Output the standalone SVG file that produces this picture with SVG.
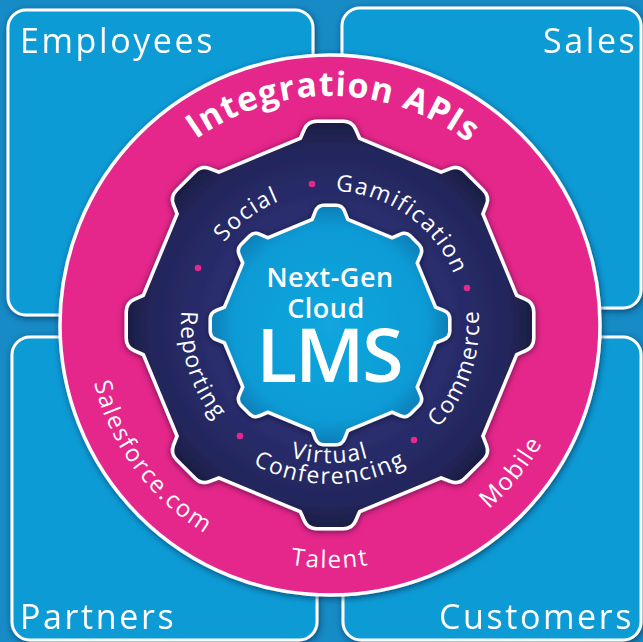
<svg xmlns="http://www.w3.org/2000/svg" width="643" height="642" viewBox="0 0 643 642">
<defs>
<style>
.box{fill:#0a9bd5;stroke:#fff;stroke-width:3}
.q{font-family:"Open Sans","Liberation Sans",sans-serif;font-size:34px;fill:#fff;letter-spacing:2.6px}
.lbl{font-family:"Open Sans","Liberation Sans",sans-serif;fill:#fff}
.ring{font-size:24px;letter-spacing:1.7px}
.gl{font-size:23px;letter-spacing:1.5px}
.dot{fill:#e5288a}
</style>
<filter id="sh" x="-20%" y="-20%" width="140%" height="140%">
<feDropShadow dx="1" dy="2" stdDeviation="3" flood-color="#05284a" flood-opacity="0.65"/>
</filter>
<filter id="sh2" x="-20%" y="-20%" width="140%" height="140%">
<feDropShadow dx="0" dy="1" stdDeviation="3" flood-color="#0a0c25" flood-opacity="0.6"/>
</filter>
<radialGradient id="navy" gradientUnits="userSpaceOnUse" cx="0" cy="0" r="210">
<stop offset="0.55" stop-color="#2a2e6e"/><stop offset="0.85" stop-color="#23265c"/><stop offset="1" stop-color="#1a1b3d"/>
</radialGradient>
<radialGradient id="blue" gradientUnits="userSpaceOnUse" cx="0" cy="0" r="120">
<stop offset="0" stop-color="#12a6de"/><stop offset="0.8" stop-color="#0b9bd5"/><stop offset="1" stop-color="#0a7db6"/>
</radialGradient>
<polygon id="oct1" points="0,-197 139.3,-139.3 197,0 139.3,139.3 0,197 -139.3,139.3 -197,0 -139.3,-139.3"/>
<path id="tooth1" d="M -35,-170 L -24,-195 Q -21,-202 -13,-202 L 13,-202 Q 21,-202 24,-195 L 35,-170 Z"/>
<g id="gear1">
<use href="#oct1"/>
<use href="#tooth1"/>
<use href="#tooth1" transform="rotate(45)"/>
<use href="#tooth1" transform="rotate(90)"/>
<use href="#tooth1" transform="rotate(135)"/>
<use href="#tooth1" transform="rotate(180)"/>
<use href="#tooth1" transform="rotate(225)"/>
<use href="#tooth1" transform="rotate(270)"/>
<use href="#tooth1" transform="rotate(315)"/>
</g>
<polygon id="oct2" points="0,-111 78.5,-78.5 111,0 78.5,78.5 0,111 -78.5,78.5 -111,0 -78.5,-78.5"/>
<path id="tooth2" d="M -20,-95 L -13,-113 Q -11,-118 -6,-118 L 6,-118 Q 11,-118 13,-113 L 20,-95 Z"/>
<g id="gear2">
<use href="#oct2"/>
<use href="#tooth2"/>
<use href="#tooth2" transform="rotate(45)"/>
<use href="#tooth2" transform="rotate(90)"/>
<use href="#tooth2" transform="rotate(135)"/>
<use href="#tooth2" transform="rotate(180)"/>
<use href="#tooth2" transform="rotate(225)"/>
<use href="#tooth2" transform="rotate(270)"/>
<use href="#tooth2" transform="rotate(315)"/>
</g>
<path id="pTop" d="M 101,325 A 229,229 0 0 1 559,325"/>
<path id="pBot" d="M 87,325 A 243,243 0 0 0 573,325"/>
<path id="pCw" d="M 196,325 A 134,134 0 1 1 464,325 A 134,134 0 1 1 196,325"/>
<path id="pCcw" d="M 330,176 A 149,149 0 1 0 330,474 A 149,149 0 1 0 330,176"/>
<path id="pVir" d="M 192,325 A 138,138 0 0 0 468,325"/>
<path id="pCon" d="M 171,325 A 159,159 0 0 0 489,325"/>
</defs>

<rect id="background" x="0" y="0" width="643" height="642" fill="#168bc5"/>

<g id="employees" filter="url(#sh)">
<rect class="box" x="8" y="10" width="305" height="305" rx="18"/>
<text class="q" x="20" y="53">Employees</text>
</g>
<g id="sales" filter="url(#sh)">
<rect class="box" x="342" y="8" width="299" height="300" rx="18"/>
<text class="q" x="543" y="53">Sales</text>
</g>
<g id="partners" filter="url(#sh)">
<rect class="box" x="12" y="337" width="305" height="303" rx="18"/>
<text class="q" x="20" y="629">Partners</text>
</g>
<g id="customers" filter="url(#sh)">
<rect class="box" x="343" y="337" width="298" height="303" rx="18"/>
<text class="q" x="439" y="629">Customers</text>
</g>

<g id="integration-ring">
<circle cx="330" cy="325" r="270" fill="#e5288a" stroke="#fff" stroke-width="3.5" filter="url(#sh)"/>
<text class="lbl" font-size="34" font-weight="700" letter-spacing="1.2" text-anchor="middle"><textPath href="#pTop" startOffset="50.5%">Integration APIs</textPath></text>
<text class="lbl ring" text-anchor="middle"><textPath href="#pBot" startOffset="20.3%">Salesforce.com</textPath></text>
<text class="lbl ring" text-anchor="middle"><textPath href="#pBot" startOffset="50%">Talent</textPath></text>
<text class="lbl ring" font-size="25" text-anchor="middle"><textPath href="#pBot" startOffset="78.3%">Mobile</textPath></text>
</g>

<g id="feature-gear">
<g transform="translate(330,325)" filter="url(#sh2)">
<use href="#gear1" fill="#fff" stroke="#fff" stroke-width="7" stroke-linejoin="round"/>
<use href="#gear1" fill="url(#navy)"/>
</g>
<text class="lbl gl" text-anchor="middle"><textPath href="#pCw" startOffset="124">Social</textPath></text>
<text class="lbl gl" text-anchor="middle"><textPath href="#pCw" startOffset="293">Gamification</textPath></text>
<text class="lbl gl" text-anchor="middle"><textPath href="#pCcw" startOffset="279">Reporting</textPath></text>
<text class="lbl gl" text-anchor="middle"><textPath href="#pCcw" startOffset="653">Commerce</textPath></text>
<text class="lbl gl" text-anchor="middle"><textPath href="#pVir" startOffset="50%">Virtual</textPath></text>
<text class="lbl gl" font-size="24" text-anchor="middle"><textPath href="#pCon" startOffset="50%">Conferencing</textPath></text>
<circle class="dot" cx="312" cy="184" r="3.3"/>
<circle class="dot" cx="198" cy="268" r="3.3"/>
<circle class="dot" cx="467" cy="288" r="3.3"/>
<circle class="dot" cx="414" cy="440" r="3.3"/>
<circle class="dot" cx="240" cy="436" r="3.3"/>
</g>

<g id="lms-core">
<g transform="translate(330,325)" filter="url(#sh2)">
<use href="#gear2" fill="#fff" stroke="#fff" stroke-width="7" stroke-linejoin="round"/>
<use href="#gear2" fill="url(#blue)"/>
</g>
<text class="lbl" x="330" y="287" font-size="27" font-weight="600" letter-spacing="0.5" text-anchor="middle">Next-Gen</text>
<text class="lbl" x="326" y="318" font-size="27" font-weight="600" letter-spacing="0.5" text-anchor="middle">Cloud</text>
<text class="lbl" x="329" y="382" font-size="75" font-weight="600" letter-spacing="-2" text-anchor="middle">LMS</text>
</g>
</svg>
